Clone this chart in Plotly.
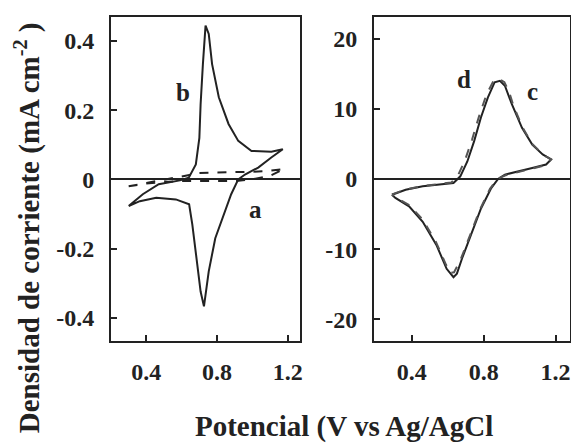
import plotly.graph_objects as go
from plotly.subplots import make_subplots

# curve b (solid, left panel)
b_x = [0.30, 0.38, 0.47, 0.59, 0.64, 0.68, 0.70, 0.707, 0.72, 0.735, 0.753, 0.772, 0.81, 0.865, 0.92, 0.995, 1.107, 1.172,
       1.107, 1.033, 0.958, 0.92, 0.88, 0.846, 0.79, 0.753, 0.726, 0.707, 0.689, 0.66, 0.642, 0.567, 0.456, 0.363, 0.30]
b_y = [-0.077, -0.043, -0.014, -0.003, 0.005, 0.043, 0.12, 0.217, 0.333, 0.444, 0.42, 0.333, 0.237, 0.16, 0.111, 0.082, 0.08, 0.087,
       0.063, 0.034, 0.014, 0.0, -0.043, -0.092, -0.17, -0.266, -0.367, -0.324, -0.246, -0.13, -0.072, -0.058, -0.053, -0.063, -0.077]

# curve a (dashed, left panel)
a_x = [0.30, 0.40, 0.50, 0.60, 0.70, 0.80, 0.90, 1.00, 1.10, 1.18,
       1.10, 1.00, 0.90, 0.80, 0.70, 0.60, 0.50, 0.40, 0.30]
a_y = [-0.02, -0.01, 0.0, 0.01, 0.018, 0.02, 0.02, 0.022, 0.025, 0.03,
       0.01, 0.0, -0.005, -0.005, -0.005, -0.005, -0.008, -0.012, -0.02]

# curve c (solid, right panel)
c_x = [0.29, 0.366, 0.461, 0.556, 0.632, 0.67, 0.709, 0.747, 0.785, 0.823, 0.861, 0.89, 0.918, 0.956, 1.013, 1.07, 1.128, 1.175,
       1.147, 1.07, 0.994, 0.918, 0.88, 0.842, 0.785, 0.728, 0.68, 0.651, 0.632, 0.594, 0.537, 0.461, 0.385, 0.309, 0.29]
c_y = [-2.25, -1.53, -1.05, -0.8, -0.57, 0.38, 2.5, 5.4, 8.8, 11.6, 13.8, 14.0, 13.3, 10.7, 7.3, 4.9, 3.5, 2.8,
       2.06, 1.58, 1.1, 0.62, 0.0, -1.3, -4.2, -8.0, -11.3, -13.5, -14.0, -12.8, -9.4, -6.1, -3.9, -2.7, -2.25]

# curve d (dashed, right panel)
d_x = [0.29, 0.366, 0.461, 0.556, 0.62, 0.655, 0.695, 0.735, 0.775, 0.815, 0.855, 0.885, 0.915, 0.94, 0.965, 1.013, 1.07, 1.128, 1.175,
       1.147, 1.07, 0.994, 0.918, 0.875, 0.835, 0.78, 0.72, 0.67, 0.635, 0.615, 0.59, 0.535, 0.461, 0.385, 0.309, 0.29]
d_y = [-2.2, -1.5, -1.0, -0.75, -0.5, 0.4, 2.6, 5.6, 9.0, 12.0, 14.0, 14.3, 13.8, 12.5, 10.5, 7.5, 5.0, 3.5, 2.8,
       2.0, 1.5, 1.0, 0.5, 0.0, -1.4, -4.3, -8.2, -11.6, -13.3, -13.4, -12.2, -9.0, -5.8, -3.7, -2.6, -2.2]

ink = "#222222"
serif = "Liberation Serif"

fig = make_subplots(rows=1, cols=2)

fig.add_trace(go.Scatter(x=b_x, y=b_y, mode="lines", line=dict(color=ink, width=2)), row=1, col=1)
fig.add_trace(go.Scatter(x=a_x, y=a_y, mode="lines", line=dict(color=ink, width=2, dash="dash")), row=1, col=1)
fig.add_trace(go.Scatter(x=c_x, y=c_y, mode="lines", line=dict(color=ink, width=2)), row=1, col=2)
fig.add_trace(go.Scatter(x=d_x, y=d_y, mode="lines", line=dict(color="#555555", width=2, dash="dash")), row=1, col=2)

axis_style = dict(showline=True, mirror=True, linecolor=ink, linewidth=2, ticks="inside", ticklen=6,
                  tickwidth=1.5, tickcolor=ink, showgrid=False, automargin=False,
                  tickfont=dict(family=serif, size=24, color=ink, weight="bold"))

fig.update_xaxes(**axis_style, tickvals=[0.4, 0.8, 1.2], ticktext=["0.4", "0.8", "1.2"],
                 zeroline=False, ticklabelstandoff=8)
fig.update_xaxes(range=[0.2, 1.27], domain=[0, 0.412], row=1, col=1)
fig.update_xaxes(range=[0.19, 1.28], domain=[0.573, 1], row=1, col=2)

fig.update_yaxes(**axis_style, zeroline=True, zerolinecolor=ink, zerolinewidth=2, ticklabelstandoff=10)
fig.update_yaxes(range=[-0.467, 0.469], tickvals=[-0.4, -0.2, 0, 0.2, 0.4],
                 ticktext=["-0.4", "-0.2", "0", "0.2", "0.4"], row=1, col=1)
fig.update_yaxes(range=[-23.1, 23.1], tickvals=[-20, -10, 0, 10, 20],
                 ticktext=["-20", "-10", "0", "10", "20"], row=1, col=2)

label_font = dict(family=serif, size=25, color=ink, weight="bold")
fig.add_annotation(x=0.61, y=0.25, xref="x", yref="y", text="b", showarrow=False, font=label_font)
fig.add_annotation(x=1.02, y=-0.088, xref="x", yref="y", text="a", showarrow=False, font=label_font)
fig.add_annotation(x=0.69, y=14.2, xref="x2", yref="y2", text="d", showarrow=False, font=label_font)
fig.add_annotation(x=1.07, y=12.5, xref="x2", yref="y2", text="c", showarrow=False, font=label_font)

title_font = dict(family=serif, size=29, color=ink, weight="bold")
fig.add_annotation(x=-0.183, y=0.348, xref="paper", yref="paper", text="Densidad de corriente (mA cm<sup>-2</sup> )",
                   textangle=-90, showarrow=False, font=title_font, xanchor="center", yanchor="middle")
fig.add_annotation(x=0.508, y=-0.265, xref="paper", yref="paper", text="Potencial (V vs Ag/AgCl",
                   showarrow=False, font=title_font, xanchor="center", yanchor="middle")

fig.update_layout(width=571, height=444, margin=dict(l=111, r=1, t=17, b=103),
                  plot_bgcolor="white", paper_bgcolor="white", showlegend=False)

# drop the page's default body margin so the figure fills the window exactly
fig.write_html("out.html", config={"displayModeBar": False},
               post_script="document.body.style.margin='0';document.body.style.overflow='hidden';")
